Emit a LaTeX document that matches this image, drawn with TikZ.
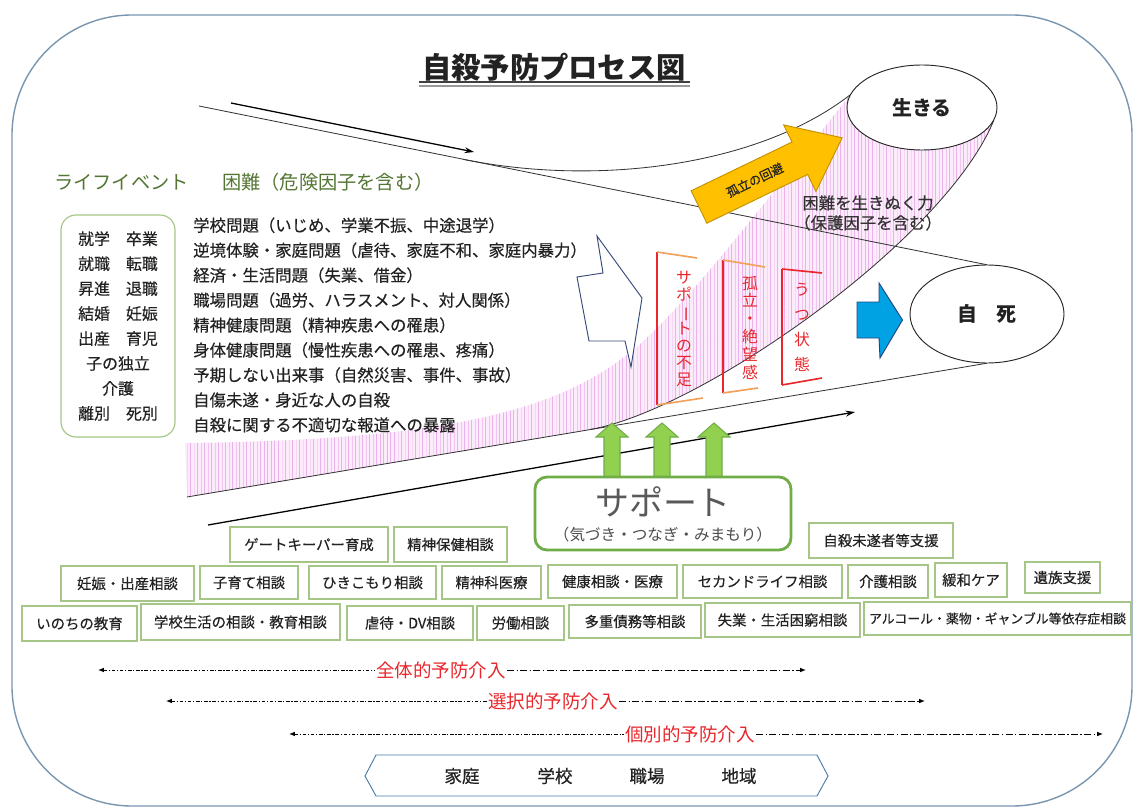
\documentclass[tikz,border=0pt]{standalone}
\usepackage{fontspec}
\setmainfont{Noto Sans CJK JP}
\newfontfamily\medfont{Noto Sans CJK JP}[FakeBold=0.35]
\usetikzlibrary{arrows.meta,patterns,shapes.geometric,calc}
\definecolor{frameblue}{RGB}{120,150,176}
\definecolor{lifegreen}{RGB}{84,118,52}
\definecolor{boxgreen}{RGB}{165,198,135}
\definecolor{supgreen}{RGB}{112,173,71}
\definecolor{arrgreen}{RGB}{146,208,80}
\definecolor{pinkfill}{RGB}{252,236,251}
\definecolor{pinkline}{RGB}{234,178,234}
\definecolor{redtxt}{RGB}{232,38,43}
\definecolor{orangetick}{RGB}{242,160,90}
\definecolor{yellowarr}{RGB}{255,192,0}
\definecolor{yellowbd}{RGB}{196,146,0}
\definecolor{bluearr}{RGB}{0,162,228}
\definecolor{bluebd}{RGB}{30,70,130}
\definecolor{navy}{RGB}{55,75,120}
\definecolor{hexblue}{RGB}{70,125,175}
\definecolor{txtdark}{RGB}{34,34,34}
\newcommand\myfs[2]{\fontsize{#1}{#2}\selectfont}
\newcommand\vbar{\rotatebox[origin=c]{-90}{ー}}
\newcommand\bx[6]{\node[sbox, minimum width={(#4-#2)*0.3mm}, minimum height={(#5-#3)*0.3mm}] (#1) at ({(#2+#4)/2},{(#3+#5)/2}) {#6};}
\begin{document}
\begin{tikzpicture}[x=0.3mm,y=-0.3mm,
  sbox/.style={draw=boxgreen, line width=0.9pt, fill=white, inner sep=0pt, font=\medfont\myfs{12.3}{14}, text=txtdark},
  funnel/.style={draw=black!80, line width=0.7pt},
  flowarrow/.style={draw=black, line width=1.1pt, -{Stealth[length=8pt,width=5pt]}},
  ddleft/.style={line width=0.8pt, dash pattern=on 3pt off 1.5pt on 1pt off 1.5pt, {Latex[length=5pt,width=4pt]}-},
  ddright/.style={line width=0.8pt, dash pattern=on 6pt off 2pt on 1.2pt off 2pt, -{Latex[length=5pt,width=4pt]}},
  redlabel/.style={text=redtxt, font=\myfs{15.8}{17}, inner sep=1pt},
  vtext/.style={align=center, inner sep=0pt, text=redtxt},
  garrow/.style={draw=supgreen, fill=arrgreen, line width=0.9pt},
  hexlabel/.style={font=\medfont\myfs{15}{17}, text=txtdark}
]
\useasboundingbox (0,0) rectangle (1134,807);
% outer frame
\draw[frameblue, line width=1.2pt, rounded corners=36mm] (12,15) rectangle (1132,806);

% title
\node[font=\myfs{25}{28}\bfseries, text=txtdark, inner sep=0pt] (title) at (554,67) {自殺予防プロセス図};
\draw[line width=1.8pt, black!75] (419,82) -- (690,82);
\draw[line width=1.2pt, black!40] (419,86) -- (690,86);

\path (922,107.5) coordinate (livec);
\path (987,314) coordinate (diec);

% named coordinates
\coordinate (ulA) at (199,106);
\coordinate (cu) at (463,159.3);
\coordinate (llA) at (187,497);
\coordinate (cl) at (590,429.5);
\coordinate (pinkTL) at (185,443);

\node[ellipse, minimum width=45mm, minimum height=25.5mm, inner sep=0pt] (live) at (livec) {};
\node[ellipse, minimum width=46.2mm, minimum height=29.4mm, inner sep=0pt] (die) at (diec) {};

% pink band
\fill[pinkfill] (pinkTL) .. controls (450,440) and (560,410) .. (633,350)
   .. controls (690,303) and (790,170) .. (live.170)
   -- (live.-10) .. controls (945,240) and (700,411) .. (cl) -- (llA) -- cycle;
\fill[pattern=vertical lines, pattern color=pinkline] (pinkTL) .. controls (450,440) and (560,410) .. (633,350)
   .. controls (690,303) and (790,170) .. (live.170)
   -- (live.-10) .. controls (945,240) and (700,411) .. (cl) -- (llA) -- cycle;

% funnel lines
\draw[funnel] (ulA) -- (die.north);
\draw[funnel] (cu) .. controls (600,187) and (760,165) .. (live.170);
\draw[funnel] (llA) -- (die.south);
\draw[funnel] (cl) .. controls (700,411) and (945,240) .. (live.-10);

% ellipses drawn
\node[draw=black!85, line width=0.8pt, fill=white, ellipse, minimum width=45mm, minimum height=25.5mm, inner sep=0pt, font=\myfs{17}{19}\bfseries, text=txtdark] (livelbl) at (livec) {生きる};
\node[draw=black!85, line width=0.8pt, fill=white, ellipse, minimum width=46.2mm, minimum height=29.4mm, inner sep=0pt, font=\myfs{17}{19}\bfseries, text=txtdark] (dielbl) at (diec) {自　死};

% flow arrows
\coordinate (fa1s) at (231,103);
\coordinate (fa1e) at (474,152);
\draw[flowarrow] (fa1s) -- (fa1e);
\coordinate (fa2s) at (208,525);
\coordinate (fa2e) at (855,412);
\draw[flowarrow] (fa2s) -- (fa2e);

% headers
\node[anchor=west, font=\myfs{16.4}{18}, text=lifegreen, inner sep=0pt] (lifehdr) at (54,182) {ライフイベント};
\node[anchor=west, font=\myfs{16.4}{18}, text=lifegreen, inner sep=0pt] (riskhdr) at (222,182) {困難（危険因子を含む）};

% life events box
\node[draw=boxgreen, line width=1pt, rounded corners=4.5mm, minimum width=34.2mm, minimum height=66.6mm, inner sep=0pt] (lifebox) at (118,326) {};
\node[align=center, font=\medfont\myfs{13.6}{21.3}, text=txtdark, inner sep=0pt] (lifetxt) at (lifebox.center)
 {就学　卒業\\就職　転職\\昇進　退職\\結婚　妊娠\\出産　育児\\子の独立\\介護\\離別　死別};

% risk list
\node[anchor=west, align=left, font=\medfont\myfs{14}{21.3}, text=txtdark, inner sep=0pt] (risks) at (193,325)
 {学校問題（いじめ、学業不振、中途退学）\\
  逆境体験・家庭問題（虐待、家庭不和、家庭内暴力）\\
  経済・生活問題（失業、借金）\\
  職場問題（過労、ハラスメント、対人関係）\\
  精神健康問題（精神疾患への罹患）\\
  身体健康問題（慢性疾患への罹患、疼痛）\\
  予期しない出来事（自然災害、事件、事故）\\
  自傷未遂・身近な人の自殺\\
  自殺に関する不適切な報道への暴露};

% white arrow
\draw[navy, line width=0.8pt, fill=white] (577,277) -- (603,273) -- (597,236) -- (642,298) -- (631,367) -- (625,341) -- (589,341) -- cycle;

% brackets
\draw[redtxt, line width=1.4pt] (657,252) -- (657,405);
\draw[orangetick, line width=1.4pt] (657,252) -- (697,258);
\draw[orangetick, line width=1.4pt] (657,405) -- (703,398);
\node[vtext, font=\myfs{13.5}{14.5}] (lack) at (684,329) {サ\\ポ\\\vbar\\ト\\の\\不\\足};

\draw[redtxt, line width=1.4pt] (723,260) -- (723,393);
\draw[orangetick, line width=1.4pt] (723,260) -- (765,267);
\draw[orangetick, line width=1.4pt] (723,393) -- (758,388);
\node[vtext, font=\myfs{13.5}{15.2}] (isol) at (750,327.5) {孤\\立\\・\\絶\\望\\感};

\draw[redtxt, line width=1.4pt] (782,269) -- (782,385);
\draw[redtxt, line width=1.4pt] (782,269) -- (822,273);
\draw[redtxt, line width=1.4pt] (782,385) -- (822,378);
\node[vtext, font=\myfs{13.5}{21.3}] (depr) at (802,327.5) {う\\つ\\状\\態};

% yellow arrow
\begin{scope}[shift={(699,207)}, rotate=25.8]
  \draw[yellowbd, fill=yellowarr, line width=0.8pt] (0,-18) -- (112,-18) -- (112,-37) -- (159,0) -- (112,37) -- (112,18) -- (0,18) -- cycle;
  \node[rotate=25.8, font=\medfont\myfs{10.5}{12}, text=txtdark, inner sep=0pt] (avoid) at (62,0) {孤立の回避};
\end{scope}

% resilience text
\node[align=center, font=\medfont\myfs{14}{17}, text=black!80, inner sep=0pt] (resil) at (868,213) {困難を生きぬく力\\（保護因子を含む）};

% blue arrow
\draw[bluebd, line width=0.8pt, fill=bluearr] (857,302) -- (879,302) -- (879,283) -- (902.5,320) -- (880,358) -- (879,338) -- (857,338) -- cycle;

% green up arrows
\foreach \cx in {612,662,714} {
  \draw[garrow] (\cx-8,478) -- (\cx-8,437) -- (\cx-16,437) -- (\cx,423) -- (\cx+16,437) -- (\cx+8,437) -- (\cx+8,478) -- cycle;
}

% support box
\node[draw=supgreen, line width=2.4pt, rounded corners=3.6mm, fill=white, minimum width=76.8mm, minimum height=21.9mm, inner sep=0pt] (sup) at (663,513.5) {};
\node[font=\myfs{29}{30}, text=black!65, inner sep=0pt] (suptitle) at (663,502) {サポート};
\node[font=\myfs{13.3}{15}, text=black!70, inner sep=0pt] (supsub) at (663,535) {（気づき・つなぎ・みまもり）};

% support service boxes
\bx{gk}{230}{527}{388}{562}{ゲートキーパー育成}
\bx{seishin}{394}{527}{507}{562}{精神保健相談}
\bx{misui}{809}{523}{953}{558}{自殺未遂者等支援}
\bx{ninshin}{61}{566}{194}{601}{妊娠・出産相談}
\bx{kosodate}{200}{566}{298}{599}{子育て相談}
\bx{hiki}{309}{566}{436}{599}{ひきこもり相談}
\bx{seishinka}{442}{566}{541}{599}{精神科医療}
\bx{kenko}{548}{565}{677}{598}{健康相談・医療}
\bx{second}{683}{565}{842}{598}{セカンドライフ相談}
\bx{kaigo}{848}{565}{928}{598}{介護相談}
\bx{kanwa}{935}{563}{1007}{597}{緩和ケア}
\bx{izoku}{1025}{562}{1100}{593}{遺族支援}
\bx{inochi}{22}{606}{137}{641}{いのちの教育}
\bx{gakko}{141}{604}{340}{640}{学校生活の相談・教育相談}
\bx{gyaku}{347}{606}{473}{640}{虐待・DV相談}
\bx{rodo}{477}{606}{564}{640}{労働相談}
\bx{taju}{569}{605}{701}{638}{多重債務等相談}
\bx{shitsu}{705}{603}{860}{637}{失業・生活困窮相談}
\bx{alc}{864}{602}{1131}{635}{\myfs{11}{12}アルコール・薬物・ギャンブル等依存症相談}

% prevention levels
\node[redlabel] (p1) at (441,670) {全体的予防介入};
\coordinate (p1l) at (98,670); \coordinate (p1r) at (806,670);
\draw[ddleft] (p1l) -- (p1.west);
\draw[ddright] (p1.east) -- (p1r);
\node[redlabel] (p2) at (553,701) {選択的予防介入};
\coordinate (p2l) at (166,701); \coordinate (p2r) at (925,701);
\draw[ddleft] (p2l) -- (p2.west);
\draw[ddright] (p2.east) -- (p2r);
\node[redlabel] (p3) at (690,734) {個別的予防介入};
\coordinate (p3l) at (289,734); \coordinate (p3r) at (1103,734);
\draw[ddleft] (p3l) -- (p3.west);
\draw[ddright] (p3.east) -- (p3r);

% settings hexagon
\draw[hexblue, line width=0.8pt, fill=white] (365,776) -- (376,755) -- (817,755) -- (828,776) -- (817,796) -- (376,796) -- cycle;
\node[hexlabel] (katei) at (462,776) {家庭};
\node[hexlabel] (gakkou) at (555,776) {学校};
\node[hexlabel] (shokuba) at (647,776) {職場};
\node[hexlabel] (chiiki) at (739,776) {地域};
\end{tikzpicture}
\end{document}
